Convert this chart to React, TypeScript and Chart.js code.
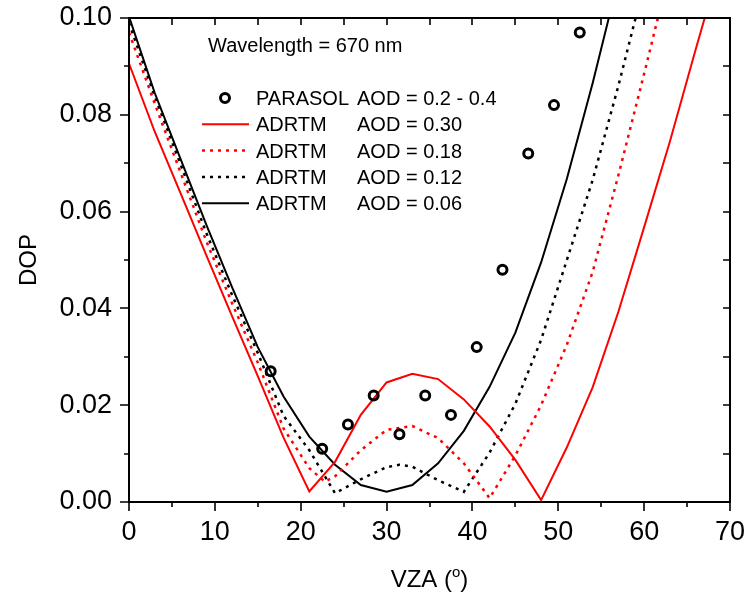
import { useEffect, useRef } from 'react';
import { Chart, registerables } from 'chart.js';

Chart.register(...registerables);

// ---- data ----
const parasolVza = [16.5, 22.5, 25.5, 28.5, 31.5, 34.5, 37.5, 40.5, 43.5, 46.5, 49.5, 52.5];
const parasolDop = [0.027, 0.011, 0.016, 0.022, 0.014, 0.022, 0.018, 0.032, 0.048, 0.072, 0.082, 0.097];

const aod30Vza = [0, 3, 6, 9, 12, 15, 18, 21, 24, 27, 30, 33, 36, 39, 42, 45, 48, 51, 54, 57, 60, 63, 66, 69];
const aod30Dop = [0.0906, 0.0765, 0.0638, 0.051, 0.0384, 0.026, 0.0133, 0.0022, 0.0083, 0.018, 0.0247, 0.0265, 0.0254, 0.0212, 0.0156, 0.0087, 0.0004, 0.0113, 0.0237, 0.0393, 0.0568, 0.0745, 0.0935, 0.112];

const aod18Vza = [0, 3, 6, 9, 12, 15, 18, 21, 22.8, 24, 27, 30, 33, 36, 39, 42, 45, 48, 51, 54, 57, 60, 63];
const aod18Dop = [0.097, 0.0823, 0.0681, 0.0539, 0.0411, 0.0288, 0.0152, 0.007, 0.0042, 0.0053, 0.0107, 0.0149, 0.0157, 0.0132, 0.008, 0.0008, 0.0096, 0.02, 0.0325, 0.0475, 0.0675, 0.0885, 0.11];

const aod12Vza = [0, 3, 6, 9, 12, 15, 18, 21, 24, 27, 30, 31.5, 33, 36, 39, 42, 45, 48, 51, 54, 57, 60];
const aod12Dop = [0.099, 0.0838, 0.0698, 0.0556, 0.0428, 0.0308, 0.0178, 0.0107, 0.0018, 0.0047, 0.0072, 0.0077, 0.0073, 0.0045, 0.0021, 0.0102, 0.0203, 0.0335, 0.05, 0.0665, 0.086, 0.107];

const aod06Vza = [0, 3, 6, 9, 12, 15, 18, 21, 24, 27, 30, 33, 36, 39, 42, 45, 48, 51, 54, 57];
const aod06Dop = [0.1003, 0.0845, 0.0709, 0.0573, 0.0444, 0.032, 0.0218, 0.0135, 0.0077, 0.0035, 0.0021, 0.0035, 0.008, 0.0147, 0.0238, 0.035, 0.0495, 0.0668, 0.0865, 0.108];

const xMajorTicks = [0, 10, 20, 30, 40, 50, 60, 70];
const xMinorTicks = [5, 15, 25, 35, 45, 55, 65];
const yMajorTicks = [0, 0.02, 0.04, 0.06, 0.08, 0.1];
const yMinorTicks = [0.01, 0.03, 0.05, 0.07, 0.09];

const legendModel = ['ADRTM', 'ADRTM', 'ADRTM', 'ADRTM'];
const legendAod = ['AOD = 0.30', 'AOD = 0.18', 'AOD = 0.12', 'AOD = 0.06'];
const legendColors = ['#ff0000', '#ff0000', '#000000', '#000000'];
const legendDotted = [false, true, true, false];

const FONT = '"Liberation Sans", Arial, Helvetica, sans-serif';
const DOT = [3, 5];

const pts = (xs: number[], ys: number[]) => xs.map((x, i) => ({ x, y: ys[i] }));

const zeroPad = (s: any) => {
  s.paddingTop = 0;
  s.paddingBottom = 0;
  s.paddingLeft = 0;
  s.paddingRight = 0;
};

const framePlugin = {
  id: 'frame',
  afterDraw(chart: any) {
    const { ctx, chartArea: a, scales } = chart;
    const xs = scales.x;
    const ys = scales.y;
    ctx.save();
    ctx.strokeStyle = '#000';
    ctx.lineWidth = 2;
    ctx.lineCap = 'butt';
    ctx.strokeRect(a.left, a.top, a.right - a.left, a.bottom - a.top);

    ctx.lineWidth = 1.6;
    ctx.beginPath();
    const xTick = (v: number, len: number) => {
      const p = Math.round(xs.getPixelForValue(v));
      ctx.moveTo(p, a.bottom);
      ctx.lineTo(p, a.bottom + len);
      if (v > xs.min && v < xs.max) {
        ctx.moveTo(p, a.top);
        ctx.lineTo(p, a.top + 7);
      }
    };
    xMajorTicks.forEach((v) => xTick(v, 9));
    xMinorTicks.forEach((v) => xTick(v, 5));
    const yTick = (v: number, len: number) => {
      const p = Math.round(ys.getPixelForValue(v));
      ctx.moveTo(a.left, p);
      ctx.lineTo(a.left - len, p);
      if (v > ys.min + 1e-9 && v < ys.max - 1e-9) {
        ctx.moveTo(a.right, p);
        ctx.lineTo(a.right - 7, p);
      }
    };
    yMajorTicks.forEach((v) => yTick(v, 9));
    yMinorTicks.forEach((v) => yTick(v, 5));
    ctx.stroke();

    // annotation
    ctx.fillStyle = '#000';
    ctx.font = `20px ${FONT}`;
    ctx.textBaseline = 'alphabetic';
    ctx.textAlign = 'left';
    ctx.fillText('Wavelength = 670 nm', a.left + 79, a.top + 34);

    // legend
    const symX = a.left + 96;
    const lx0 = a.left + 73;
    const lx1 = a.left + 120;
    const tx = a.left + 127;
    const tx2 = a.left + 228;
    const rowY = (i: number) => a.top + 80 + i * 26.3;

    ctx.beginPath();
    ctx.arc(symX, rowY(0), 4.5, 0, Math.PI * 2);
    ctx.lineWidth = 3;
    ctx.strokeStyle = '#000';
    ctx.stroke();
    ctx.fillText('PARASOL', tx, rowY(0) + 7);
    ctx.fillText('AOD = 0.2 - 0.4', tx2, rowY(0) + 7);

    legendModel.forEach((m, i) => {
      const y = rowY(i + 1);
      ctx.beginPath();
      ctx.strokeStyle = legendColors[i];
      ctx.lineWidth = legendDotted[i] ? 2.5 : 2;
      ctx.setLineDash(legendDotted[i] ? DOT : []);
      ctx.moveTo(lx0, y);
      ctx.lineTo(lx1, y);
      ctx.stroke();
      ctx.setLineDash([]);
      ctx.fillText(m, tx, y + 7);
      ctx.fillText(legendAod[i], tx2, y + 7);
    });

    // x axis title with superscript
    const cx = (a.left + a.right) / 2;
    const base = 587;
    ctx.font = `24px ${FONT}`;
    const p1 = 'VZA (';
    const p3 = ')';
    const w1 = ctx.measureText(p1).width;
    const w3 = ctx.measureText(p3).width;
    ctx.font = `15px ${FONT}`;
    const w2 = ctx.measureText('o').width;
    const total = w1 + w2 + w3;
    let x = cx - total / 2;
    ctx.font = `24px ${FONT}`;
    ctx.fillText(p1, x, base);
    x += w1;
    ctx.font = `15px ${FONT}`;
    ctx.fillText('o', x, base - 10);
    x += w2;
    ctx.font = `24px ${FONT}`;
    ctx.fillText(p3, x, base);
    ctx.restore();
  },
};

export default function App() {
  const ref = useRef<HTMLCanvasElement | null>(null);
  useEffect(() => {
    if (!ref.current) return;
    const lineDs = (label: string, xs: number[], ys: number[], color: string, dotted: boolean) => ({
      label,
      data: pts(xs, ys),
      showLine: true,
      borderColor: color,
      backgroundColor: color,
      borderWidth: dotted ? 2.5 : 2,
      borderDash: dotted ? DOT : [],
      pointRadius: 0,
      pointHoverRadius: 0,
      tension: 0,
      fill: false,
    });
    const chart = new Chart(ref.current, {
      type: 'scatter',
      data: {
        datasets: [
          {
            label: 'PARASOL AOD = 0.2 - 0.4',
            data: pts(parasolVza, parasolDop),
            showLine: false,
            pointRadius: 4.5,
            pointBorderWidth: 3,
            pointBorderColor: '#000',
            pointBackgroundColor: 'rgba(255,255,255,0)',
            borderColor: '#000',
            backgroundColor: 'rgba(255,255,255,0)',
          } as any,
          lineDs('ADRTM AOD = 0.30', aod30Vza, aod30Dop, '#ff0000', false),
          lineDs('ADRTM AOD = 0.18', aod18Vza, aod18Dop, '#ff0000', true),
          lineDs('ADRTM AOD = 0.12', aod12Vza, aod12Dop, '#000000', true),
          lineDs('ADRTM AOD = 0.06', aod06Vza, aod06Dop, '#000000', false),
        ],
      },
      options: {
        responsive: false,
        animation: false,
        events: [],
        layout: { padding: { left: 0, top: 18, right: 17, bottom: 0 } },
        plugins: { legend: { display: false }, tooltip: { enabled: false }, title: { display: false } },
        scales: {
          x: {
            type: 'linear',
            min: 0,
            max: 70,
            grid: { display: false, drawTicks: false },
            border: { display: false },
            afterBuildTicks: (s: any) => {
              s.ticks = xMajorTicks.map((v) => ({ value: v }));
            },
            afterFit: (s: any) => {
              s.height = 95;
              zeroPad(s);
            },
            ticks: {
              autoSkip: false,
              maxRotation: 0,
              padding: 14,
              color: '#000',
              font: { family: FONT, size: 27 },
              callback: (v: any) => String(v),
            },
          },
          y: {
            type: 'linear',
            min: 0,
            max: 0.1,
            grid: { display: false, drawTicks: false },
            border: { display: false },
            afterBuildTicks: (s: any) => {
              s.ticks = yMajorTicks.map((v) => ({ value: v }));
            },
            afterFit: (s: any) => {
              s.width = 129;
              zeroPad(s);
            },
            title: {
              display: true,
              text: 'DOP',
              color: '#000',
              font: { family: FONT, size: 24 },
              padding: { top: 15, bottom: 0 },
            },
            ticks: {
              autoSkip: false,
              padding: 17,
              color: '#000',
              font: { family: FONT, size: 27 },
              callback: (v: any) => Number(v).toFixed(2),
            },
          },
        },
      },
      plugins: [framePlugin],
    });
    return () => chart.destroy();
  }, []);
  return (
    <div style={{ position: 'absolute', left: 0, top: 0, width: 747, height: 597, background: '#fff' }}>
      <canvas ref={ref} width={747} height={597} style={{ display: 'block', width: 747, height: 597 }} />
    </div>
  );
}
